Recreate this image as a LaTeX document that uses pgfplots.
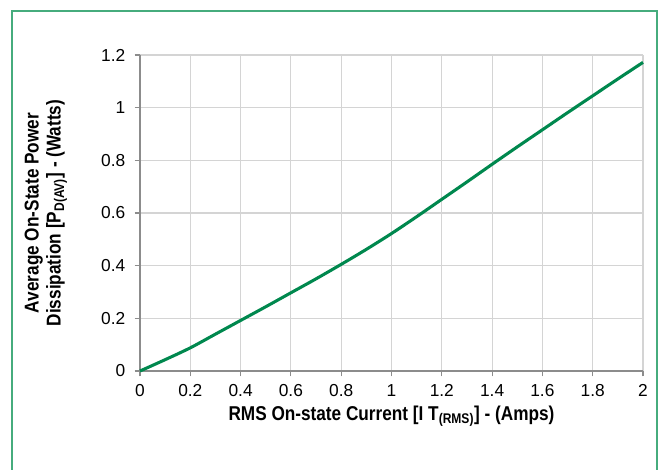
\documentclass[border=0pt]{standalone}
\usepackage{fontspec}
\setmainfont{Liberation Sans}
\newfontfamily\lblfont{Liberation Sans}[FakeStretch=0.86]
\usepackage{pgfplots}
\pgfplotsset{compat=1.18}
\definecolor{bordergreen}{RGB}{70,172,125}
\definecolor{curvegreen}{RGB}{0,136,78}
\definecolor{gridgray}{RGB}{212,212,212}
\definecolor{axisgray}{RGB}{140,140,140}
\begin{document}
\begin{tikzpicture}
\useasboundingbox (0,0) rectangle (496.5pt,351.75pt);
\draw[color=bordergreen, line width=1.5pt] (9pt,-10pt) -- (9pt,343.5pt) -- (492.75pt,343.5pt) -- (492.75pt,-10pt);
\begin{axis}[
  at={(105pt,73.5pt)}, anchor=south west,
  scale only axis, width=377.25pt, height=237pt,
  xmin=0, xmax=2, ymin=0, ymax=1.2,
  xtick={0,0.2,0.4,0.6,0.8,1,1.2,1.4,1.6,1.8,2},
  xticklabels={0,0.2,0.4,0.6,0.8,1,1.2,1.4,1.6,1.8,2},
  ytick={0,0.2,0.4,0.6,0.8,1,1.2},
  yticklabels={0,0.2,0.4,0.6,0.8,1,1.2},
  axis lines=left,
  axis line style={-, draw=axisgray, line width=0.9pt},
  grid=major,
  grid style={gridgray, line width=0.8pt},
  tick align=outside,
  major tick length=4pt,
  tick style={axisgray, line width=0.8pt},
  ticklabel style={font=\fontsize{13}{15}\selectfont, text=black},
  xticklabel style={yshift=-2.5pt},
  yticklabel style={xshift=-3.5pt},
  xlabel={\lblfont\bfseries RMS On-state Current [I T\textsubscript{(RMS)}] - (Amps)},
  ylabel={\lblfont\bfseries Average On-State Power\\ \lblfont\bfseries Dissipation [P\textsubscript{D(AV)}] - (Watts)},
  label style={font=\fontsize{15}{16.5}\selectfont},
  xlabel style={at={(axis description cs:0.5,0)}, anchor=center, yshift=-34pt},
  ylabel style={at={(axis description cs:-0.187,0.5)}, anchor=center, align=center},
  clip=false,
]
\addplot[curvegreen, line width=2.3pt, smooth] coordinates {
(0,0) (0.1,0.043) (0.2,0.088) (0.3,0.14) (0.4,0.192) (0.5,0.244) (0.6,0.297)
(0.7,0.35) (0.8,0.405) (0.9,0.462) (1.0,0.522) (1.1,0.586) (1.2,0.652)
(1.3,0.718) (1.4,0.785) (1.5,0.851) (1.6,0.916) (1.7,0.981) (1.8,1.045)
(1.9,1.109) (2.0,1.172)};
\end{axis}
\end{tikzpicture}
\end{document}
